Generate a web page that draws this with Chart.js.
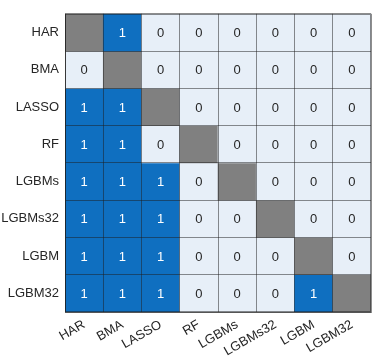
<!DOCTYPE html>
<html>
<head>
<meta charset="utf-8">
<script src="https://cdn.jsdelivr.net/npm/chart.js@4"></script>
<style>
  html, body { margin: 0; padding: 0; background: #fff; }
  #wrap { width: 373px; height: 360px; }
</style>
</head>
<body>
<div id="wrap"><canvas id="heat"></canvas></div>
<script>
const models = ['HAR', 'BMA', 'LASSO', 'RF', 'LGBMs', 'LGBMs32', 'LGBM', 'LGBM32'];

// one array per row (top to bottom), null = diagonal
const rowHAR     = [null, 1, 0, 0, 0, 0, 0, 0];
const rowBMA     = [0, null, 0, 0, 0, 0, 0, 0];
const rowLASSO   = [1, 1, null, 0, 0, 0, 0, 0];
const rowRF      = [1, 1, 0, null, 0, 0, 0, 0];
const rowLGBMs   = [1, 1, 1, 0, null, 0, 0, 0];
const rowLGBMs32 = [1, 1, 1, 0, 0, null, 0, 0];
const rowLGBM    = [1, 1, 1, 0, 0, 0, null, 0];
const rowLGBM32  = [1, 1, 1, 0, 0, 0, 1, null];

const matrix = [rowHAR, rowBMA, rowLASSO, rowRF, rowLGBMs, rowLGBMs32, rowLGBM, rowLGBM32];

const colorOne = '#0f6fc0';
const colorZero = '#e7eff8';
const colorNaN = '#808080';
const lineColor = 'rgba(30,30,30,0.5)';
const font = { family: "'Liberation Sans', Arial, sans-serif", size: 13 };

function cellColor(v) {
    if (v === null) return colorNaN;
    return v === 1 ? colorOne : colorZero;
}

// each row is a stacked dataset with unit-height cells
const datasets = matrix.map((row, r) => ({
    label: models[r],
    data: row.map(() => 1),
    backgroundColor: row.map(cellColor),
    borderWidth: 0,
    barPercentage: 1,
    categoryPercentage: 1,
    yAxisID: 'y'
}));

const cellText = {
    id: 'cellText',
    afterDatasetsDraw(chart) {
        const ctx = chart.ctx;
        ctx.save();
        ctx.font = `${font.size}px ${font.family}`;
        ctx.textAlign = 'center';
        ctx.textBaseline = 'middle';
        matrix.forEach((row, r) => {
            const meta = chart.getDatasetMeta(r);
            meta.data.forEach((el, c) => {
                const v = row[c];
                if (v === null) return;
                const p = el.getProps(['x', 'y', 'base'], true);
                ctx.fillStyle = v === 1 ? '#ffffff' : '#262626';
                ctx.fillText(String(v), p.x, (p.y + p.base) / 2 + 1);
            });
        });
        ctx.restore();
    },
    afterDraw(chart) {
        // outer frame of the heatmap
        const a = chart.chartArea;
        const ctx = chart.ctx;
        ctx.save();
        ctx.strokeStyle = lineColor;
        ctx.lineWidth = 1;
        ctx.strokeRect(Math.round(a.left) + 0.5, Math.round(a.top) + 0.5,
            Math.round(a.right - a.left) - 1, Math.round(a.bottom - a.top) - 1);
        ctx.restore();
    }
};

new Chart(document.getElementById('heat'), {
    type: 'bar',
    data: { labels: models, datasets },
    options: {
        responsive: true,
        maintainAspectRatio: false,
        animation: false,
        layout: { padding: { top: 1, right: 2, left: 0, bottom: 0 } },
        plugins: { legend: { display: false }, tooltip: { enabled: false } },
        scales: {
            x: {
                stacked: true,
                offset: true,
                grid: { offset: true, color: lineColor, drawTicks: false, z: 1 },
                border: { color: lineColor, z: 1 },
                ticks: { color: '#262626', font, padding: 5, minRotation: 30, maxRotation: 30 },
                afterFit(scale) { scale.height = 48; }
            },
            y: {
                stacked: true,
                display: false,
                reverse: true,
                min: 0,
                max: models.length
            },
            rows: {
                type: 'category',
                position: 'left',
                labels: models,
                offset: true,
                grid: { offset: true, color: lineColor, drawTicks: false, z: 1 },
                border: { color: lineColor, z: 1 },
                ticks: { color: '#262626', font, padding: 6 },
                afterFit(scale) { scale.width = 65; }
            }
        }
    },
    plugins: [cellText]
});
</script>
</body>
</html>
